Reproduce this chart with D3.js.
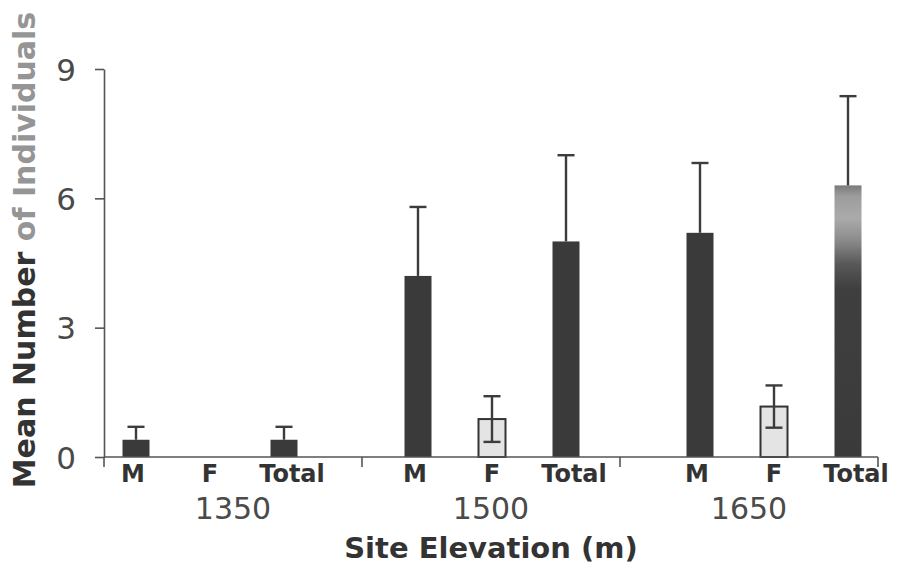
<!DOCTYPE html>
<html>
<head>
<meta charset="utf-8">
<script src="https://cdn.jsdelivr.net/npm/d3@7"></script>
<style>
  html, body { margin: 0; padding: 0; background: #fff; }
  svg { display: block; }
</style>
</head>
<body>
<svg id="chart" width="898" height="588"></svg>
<script>
// Site elevations (outer categories) and the sex classes within each site
const elevations = ["1350", "1500", "1650"];
const classes = ["M", "F", "Total"];

// Mean number of individuals per class, one array per elevation
const means1350 = [0.4, 0, 0.4];
const means1500 = [4.2, 0.88, 5.0];
const means1650 = [5.2, 1.17, 6.3];

// Error bar half-lengths, same order
const err1350 = [0.3, 0, 0.3];
const err1500 = [1.6, 0.53, 2.0];
const err1650 = [1.62, 0.49, 2.07];

const yTicks = [0, 3, 6, 9];

const meansBySite = [means1350, means1500, means1650];
const errBySite = [err1350, err1500, err1650];
const rows = [];
elevations.forEach((site, i) => {
  classes.forEach((c, j) => {
    rows.push({ site, cls: c, mean: meansBySite[i][j], err: errBySite[i][j] });
  });
});

const svg = d3.select("#chart");
const plotLeft = 104, plotRight = 878, plotTop = 69, plotBase = 457;
const font = "'DejaVu Sans', Verdana, sans-serif";

const y = d3.scaleLinear().domain([0, 9]).range([plotBase, plotTop]);
// Axis bands: one per site, separated by tick marks on the baseline
const x0 = d3.scaleBand().domain(elevations).range([plotLeft, plotRight]).padding(0);
// Bar clusters: centre of each site's cluster, and class offsets within it
const xc = d3.scalePoint().domain(elevations).range([210, 774]);
const x1 = d3.scalePoint().domain(classes).range([-74, 74]);
const barW = 27;
const barX = d => xc(d.site) + x1(d.cls);

// Shading for the tallest bar, which fades lighter toward its top
const defs = svg.append("defs");
const grad = defs.append("linearGradient").attr("id", "fadeTop")
  .attr("x1", 0).attr("y1", 0).attr("x2", 0).attr("y2", 1);
[[0, "#7a7a7a"], [0.04, "#9c9c9c"], [0.12, "#ababab"], [0.2, "#8c8c8c"],
 [0.29, "#585858"], [0.38, "#3f3f3f"], [1, "#3a3a3a"]]
  .forEach(([o, c]) => grad.append("stop").attr("offset", o).attr("stop-color", c));

const ink = "#3a3a3a";
const axisGrey = "#555";

// Bars
svg.append("g").selectAll("rect")
  .data(rows.filter(d => d.mean > 0))
  .join("rect")
  .attr("x", d => barX(d) - barW / 2)
  .attr("y", d => y(d.mean))
  .attr("width", barW)
  .attr("height", d => y(0) - y(d.mean))
  .attr("fill", d => d.cls === "F" ? "#e4e4e4"
    : (d.site === "1650" && d.cls === "Total" ? "url(#fadeTop)" : ink))
  .attr("stroke", d => d.cls === "F" ? "#333" : "none")
  .attr("stroke-width", 2);

// Error bars: full whiskers on the light bars, upper whisker on the dark ones
const eb = svg.append("g").attr("stroke", "#3c3c3c").attr("stroke-width", 2.4).attr("fill", "none");
const capW = 17;
rows.filter(d => d.err > 0).forEach(d => {
  const cx = barX(d);
  const both = d.cls === "F";
  const hi = y(d.mean + d.err);
  const lo = both ? y(Math.max(0, d.mean - d.err)) : y(d.mean);
  eb.append("line").attr("x1", cx).attr("x2", cx).attr("y1", hi).attr("y2", lo);
  eb.append("line").attr("x1", cx - capW / 2).attr("x2", cx + capW / 2).attr("y1", hi).attr("y2", hi);
  if (both) {
    eb.append("line").attr("x1", cx - capW / 2).attr("x2", cx + capW / 2).attr("y1", lo).attr("y2", lo);
  }
});

// Y axis
const yAxis = svg.append("g").attr("transform", `translate(${plotLeft},0)`)
  .call(d3.axisLeft(y).tickValues(yTicks).tickSize(9).tickSizeOuter(0).tickPadding(19));
yAxis.select(".domain").attr("stroke", axisGrey).attr("stroke-width", 1.6);
yAxis.selectAll(".tick line").attr("stroke", axisGrey).attr("stroke-width", 1.6);
yAxis.selectAll(".tick text")
  .attr("fill", "#4a4a4a")
  .style("font-family", font)
  .style("font-size", "31px")
  .attr("dy", "0.36em");

// X axis: baseline with ticks at the site boundaries
const xg = svg.append("g");
xg.append("line").attr("x1", plotLeft).attr("x2", plotRight).attr("y1", plotBase).attr("y2", plotBase)
  .attr("stroke", axisGrey).attr("stroke-width", 1.6);
const bounds = elevations.map(e => x0(e)).concat([plotRight]);
xg.selectAll("line.sep").data(bounds).join("line").attr("class", "sep")
  .attr("x1", d => d).attr("x2", d => d).attr("y1", plotBase).attr("y2", plotBase + 10)
  .attr("stroke", axisGrey).attr("stroke-width", 1.6);

// Class labels under each bar
svg.append("g").selectAll("text")
  .data(rows)
  .join("text")
  .attr("x", d => barX(d) + (d.cls === "Total" ? 8 : d.cls === "M" ? -3 : 0))
  .attr("y", 482)
  .attr("text-anchor", "middle")
  .attr("fill", "#333")
  .style("font-family", font)
  .style("font-weight", "bold")
  .style("font-size", "24px")
  .text(d => d.cls);

// Elevation labels, centred in each axis band
svg.append("g").selectAll("text")
  .data(elevations)
  .join("text")
  .attr("x", d => x0(d) + x0.bandwidth() / 2)
  .attr("y", 519)
  .attr("text-anchor", "middle")
  .attr("fill", "#4a4a4a")
  .style("font-family", font)
  .style("font-size", "30px")
  .text(d => d);

// Axis titles
svg.append("text")
  .attr("x", 491)
  .attr("y", 558)
  .attr("text-anchor", "middle")
  .attr("fill", "#333")
  .style("font-family", font)
  .style("font-weight", "bold")
  .style("font-size", "29px")
  .text("Site Elevation (m)");

const yt = svg.append("text")
  .attr("transform", "translate(35,250) rotate(-90)")
  .attr("text-anchor", "middle")
  .style("font-family", font)
  .style("font-weight", "bold")
  .style("font-size", "30px");
yt.append("tspan").attr("fill", "#333").text("Mean Number ");
yt.append("tspan").attr("fill", "#959595").text("of Individuals");
</script>
</body>
</html>
